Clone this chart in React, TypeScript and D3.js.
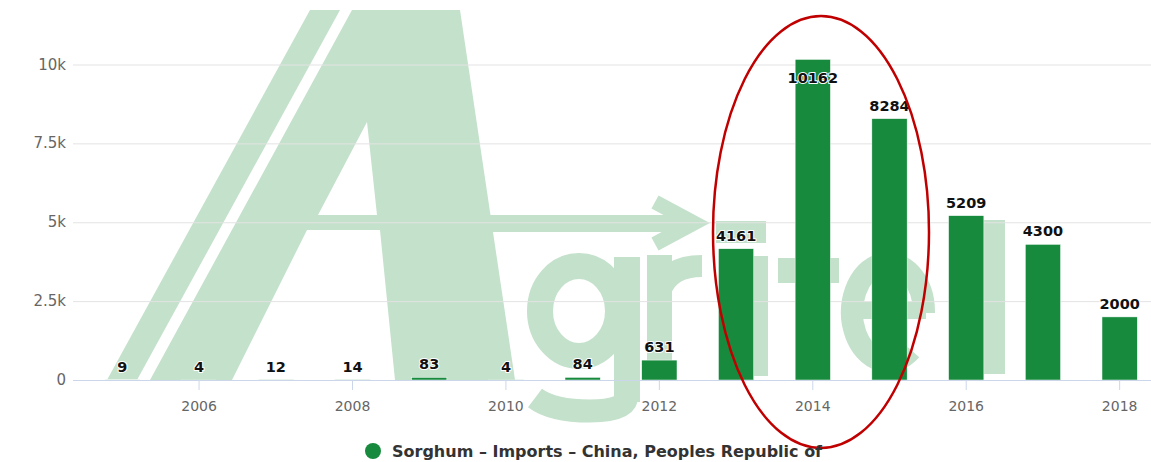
import React from "react";
import * as d3 from "d3";

const years = [2005, 2006, 2007, 2008, 2009, 2010, 2011, 2012, 2013, 2014, 2015, 2016, 2017, 2018];
const imports = [9, 4, 12, 14, 83, 4, 84, 631, 4161, 10162, 8284, 5209, 4300, 2000];
const yTicks = [0, 2500, 5000, 7500, 10000];
const yTickLabels = ["0", "2.5k", "5k", "7.5k", "10k"];
const xTickYears = [2006, 2008, 2010, 2012, 2014, 2016, 2018];
const seriesName = "Sorghum – Imports – China, Peoples Republic of";

const W = 1151;
const H = 462;
const BAR = "#178a3d";
const WM = "#c4e1cb";
const FONT = "'DejaVu Sans', sans-serif";

function Watermark() {
  // Decorative "Agritel" logo drawn behind the plot
  const aPath =
    "M150,380 L352,10 L460,10 L515,380 L395,380 L380,230 L307,230 L232,380 Z " +
    "M367,122 L318,215 L377,215 Z";
  return (
    <g fill={WM} stroke="none">
      <polygon points="107,380 137,380 340,10 310,10" />
      <path d={aPath} fillRule="evenodd" />
      {/* arrow shaft & head */}
      <rect x={480} y={215} width={208} height={17} />
      <polyline points="655,202 694,223 655,244" fill="none" stroke={WM} strokeWidth={15} />
      {/* g */}
      <ellipse cx={579} cy={311} rx={39} ry={45} fill="none" stroke={WM} strokeWidth={26} />
      <rect x={614} y={257} width={26} height={145} />
      <path d="M627,395 Q627,411 590,411 Q552,411 535,398" fill="none" stroke={WM} strokeWidth={23} />
      {/* r */}
      <rect x={647} y={255} width={25} height={124} />
      <path d="M660,292 Q668,266 702,266" fill="none" stroke={WM} strokeWidth={22} />
      {/* i */}
      <rect x={752} y={256} width={16} height={120} />
      <rect x={716} y={221} width={50} height={22} />
      {/* t */}
      <rect x={797} y={224} width={25} height={152} />
      <rect x={778} y={258} width={61} height={25} />
      {/* e */}
      <path d="M924,313 A36,49 0 1 0 911,350" fill="none" stroke={WM} strokeWidth={22} />
      <rect x={852} y={302} width={74} height={17} />
      {/* l */}
      <rect x={983} y={220} width={22} height={154} />
    </g>
  );
}

export default function App() {
  const x = d3.scaleBand<number>().domain(years).range([84, 1158]).padding(0);
  const y = d3.scaleLinear().domain([0, 10000]).range([380, 64.5]);
  const barW = x.bandwidth() * 0.46;
  const gridLeft = 73;
  const plotTop = 55;

  return (
    <svg
      width={W}
      height={H}
      style={{ position: "fixed", left: 0, top: 0, background: "#fff" }}
      fontFamily={FONT}
    >
      <rect width={W} height={H} fill="#fff" />
      <defs>
        <clipPath id="wmclip">
          <rect x={0} y={10} width={W} height={H - 10} />
        </clipPath>
      </defs>
      <g clipPath="url(#wmclip)">
        <Watermark />
      </g>

      {/* grid lines */}
      {yTicks.map((t, i) =>
        i === 0 ? null : (
          <line key={t} x1={gridLeft} x2={W} y1={y(t) + 0.5} y2={y(t) + 0.5} stroke="#e3e3e3" strokeWidth={1} />
        )
      )}
      {/* y labels */}
      {yTicks.map((t, i) => (
        <text key={"yl" + t} x={66} y={y(t) + 5} textAnchor="end" fontSize={15} fill="#666">
          {yTickLabels[i]}
        </text>
      ))}

      {/* bars */}
      {years.map((yr, i) => {
        const cx = (x(yr) as number) + x.bandwidth() / 2;
        const top = y(imports[i]);
        return (
          <rect key={"b" + yr} x={cx - barW / 2} y={top} width={barW} height={y(0) - top} fill={BAR} stroke="#fff" strokeWidth={0.5} />
        );
      })}

      {/* x axis */}
      <line x1={gridLeft} x2={W} y1={y(0) + 0.5} y2={y(0) + 0.5} stroke="#ccd6eb" strokeWidth={1} />
      {xTickYears.map((yr) => {
        const cx = (x(yr) as number) + x.bandwidth() / 2;
        return (
          <g key={"xt" + yr}>
            <line x1={cx} x2={cx} y1={y(0)} y2={y(0) + 10} stroke="#ccd6eb" strokeWidth={1} />
            <text x={cx} y={411} textAnchor="middle" fontSize={14} fill="#666">
              {yr}
            </text>
          </g>
        );
      })}

      {/* data labels */}
      {years.map((yr, i) => {
        const cx = (x(yr) as number) + x.bandwidth() / 2;
        const top = y(imports[i]);
        let ly = top - 8;
        if (ly - 14 < plotTop) ly = top + 24;
        return (
          <text
            key={"dl" + yr}
            x={cx}
            y={ly}
            textAnchor="middle"
            fontSize={14.5}
            fontWeight="bold"
            fill="#111"
            stroke="#fff"
            strokeWidth={2}
            strokeLinejoin="round"
            style={{ paintOrder: "stroke" }}
          >
            {imports[i]}
          </text>
        );
      })}

      {/* highlight ellipse */}
      <ellipse cx={821} cy={232} rx={108} ry={216} fill="none" stroke="#c00000" strokeWidth={2.5} />

      {/* legend */}
      <circle cx={373} cy={451} r={8} fill={BAR} />
      <text x={392} y={457} fontSize={16} fontWeight="bold" fill="#333">
        {seriesName}
      </text>
    </svg>
  );
}
